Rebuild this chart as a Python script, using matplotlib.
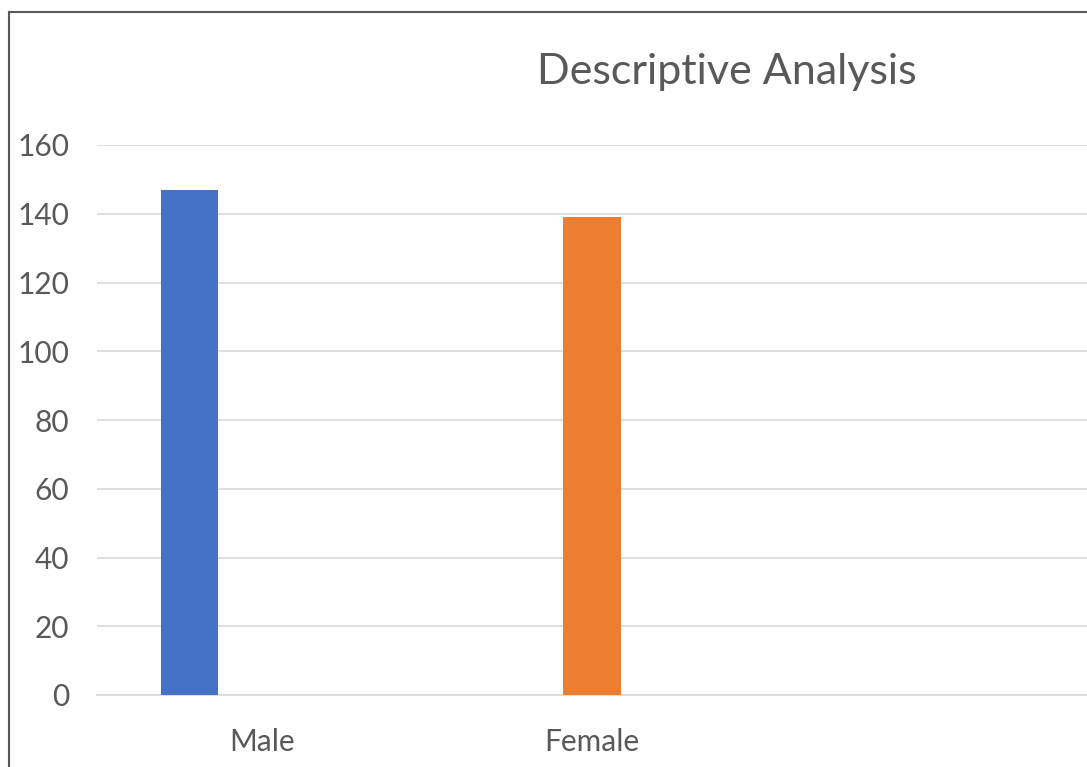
import matplotlib.pyplot as plt
from matplotlib.lines import Line2D

# antall respondenter per kjønn
kategorier = ["Male", "Female"]
antall = [147, 139]
farger = ["#4472C4", "#ED7D31"]
y_ticks = [0, 20, 40, 60, 80, 100, 120, 140, 160]


def main() -> None:
    plt.rcParams["font.family"] = ["Lato", "DejaVu Sans"]
    tekstfarge = "#595959"
    gridfarge = "#D9D9D9"

    fig = plt.figure(figsize=(10.87, 7.67), dpi=100)
    ax = fig.add_axes([97 / 1087, 72 / 767, 990 / 1087, 550 / 767])

    x = list(range(len(kategorier)))
    ax.bar(x, antall, width=0.143, color=farger, zorder=3)

    ax.set_xlim(-0.2298, 2.2298)
    ax.set_ylim(0, 160)
    ax.set_yticks(y_ticks)
    ax.set_yticklabels([str(v) for v in y_ticks])
    ax.grid(axis="y", color=gridfarge, linewidth=1.2, zorder=0)

    # Excel plasserer kategorinavnet litt forskjøvet for første gruppe
    etikett_forskyvning = [0.18, 0.0]
    ax.set_xticks([xi + d for xi, d in zip(x, etikett_forskyvning)])
    ax.set_xticklabels(kategorier)

    ax.tick_params(axis="y", length=0, pad=20, labelsize=21.5, labelcolor=tekstfarge)
    ax.tick_params(axis="x", length=0, pad=23.5, labelsize=21.5, labelcolor=tekstfarge)
    for side in ["left", "right", "top"]:
        ax.spines[side].set_visible(False)
    ax.spines["bottom"].set_color(gridfarge)
    ax.spines["bottom"].set_linewidth(1.2)

    fig.text(727 / 1087, 1 - 84 / 767, "Descriptive Analysis", ha="center",
             va="baseline", fontsize=31, color=tekstfarge)

    # ramme rundt diagrammet
    rammefarge = "#595959"
    fig.add_artist(Line2D([9 / 1087, 9 / 1087], [0, 1 - 12 / 767],
                          transform=fig.transFigure, color=rammefarge, linewidth=1.5))
    fig.add_artist(Line2D([9 / 1087, 1], [1 - 12 / 767, 1 - 12 / 767],
                          transform=fig.transFigure, color=rammefarge, linewidth=1.5))

    fig.savefig("out.png", dpi=100, facecolor="white")
    plt.close(fig)


if __name__ == "__main__":
    main()
